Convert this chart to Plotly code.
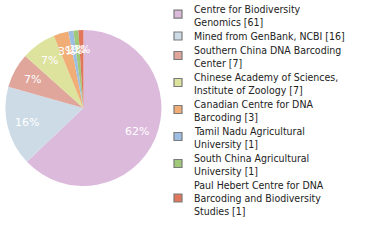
import math
import plotly.graph_objects as go

labels = [
    "Centre for Biodiversity<br>Genomics [61]",
    "Mined from GenBank, NCBI [16]",
    "Southern China DNA Barcoding<br>Center [7]",
    "Chinese Academy of Sciences,<br>Institute of Zoology [7]",
    "Canadian Centre for DNA<br>Barcoding [3]",
    "Tamil Nadu Agricultural<br>University [1]",
    "South China Agricultural<br>University [1]",
    "Paul Hebert Centre for DNA<br>Barcoding and Biodiversity<br>Studies [1]",
]
values = [61, 16, 7, 7, 3, 1, 1, 1]
colors = ["#dcbadc", "#cddbe6", "#e0a59b", "#dde29d", "#f0ad75", "#9dbde3", "#9fc879", "#e0765c"]

W, H = 380, 240
total = sum(values)
pct_text = [f"{int(v * 100 // total)}%" for v in values]

dom_x = [0.013, 0.426]
dom_y = [0.225, 0.875]

fig = go.Figure(go.Pie(
    labels=labels,
    values=values,
    textinfo="none",
    sort=False,
    direction="clockwise",
    rotation=0,
    marker=dict(colors=colors, line=dict(width=0)),
    domain=dict(x=dom_x, y=dom_y),
    hoverinfo="label+percent",
    showlegend=False,
))

annotations = []
shapes = []

# percent labels inside slices
cx = (dom_x[0] + dom_x[1]) / 2
cy = (dom_y[0] + dom_y[1]) / 2
R = min((dom_x[1] - dom_x[0]) * W, (dom_y[1] - dom_y[0]) * H) / 2
rt = 0.75 * R
cum = 0
for v, t in zip(values, pct_text):
    th = 2 * math.pi * (cum + v / 2) / total
    cum += v
    annotations.append(dict(
        x=cx + rt * math.sin(th) / W, y=cy + rt * math.cos(th) / H,
        xref="paper", yref="paper", text=t, showarrow=False,
        xanchor="center", yanchor="middle",
        font=dict(color="white", size=11, family="DejaVu Sans"),
    ))

# legend
line_h = 12.6
gap = 1.8
cursor = 3.0
text_x = 192
for lab, col in zip(labels, colors):
    lines = lab.split("<br>")
    centers = []
    for i, ln in enumerate(lines):
        yc = cursor + 6 + i * line_h
        centers.append(yc)
        annotations.append(dict(
            x=text_x / W, y=1 - yc / H, xref="paper", yref="paper",
            text=ln, showarrow=False, xanchor="left", yanchor="middle",
            font=dict(size=10.5, family="DejaVu Sans Condensed, DejaVu Sans", color="#222"),
        ))
    cursor += len(lines) * line_h + gap
    mid = sum(centers) / len(centers) - (1.2 if len(lines) == 2 else 0)
    shapes.append(dict(
        type="rect", xref="paper", yref="paper",
        x0=174 / W, x1=182 / W, y0=1 - (mid - 4) / H, y1=1 - (mid + 4) / H,
        fillcolor=col, line=dict(color="#7a7a7a", width=1.2),
    ))

fig.update_layout(
    width=W, height=H,
    margin=dict(l=0, r=0, t=0, b=0),
    paper_bgcolor="white",
    plot_bgcolor="white",
    annotations=annotations,
    shapes=shapes,
)

fig.write_html("out.html")
